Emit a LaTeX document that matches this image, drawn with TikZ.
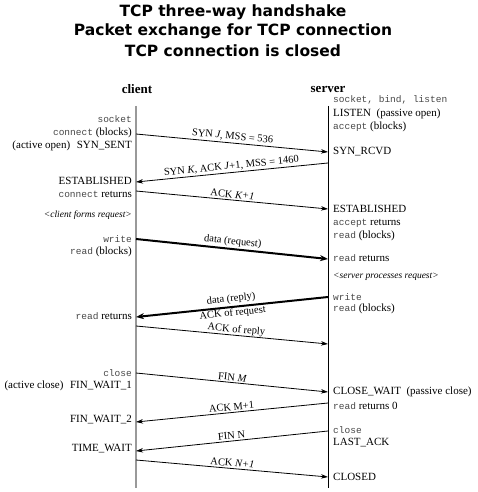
\documentclass[tikz,border=0pt]{standalone}
\usepackage{fontspec}
\setmainfont{Liberation Serif}
\setmonofont{Liberation Mono}
\newfontfamily\titlefont{DejaVu Sans}
\usetikzlibrary{arrows.meta}
\newcommand{\tw}[1]{\textcolor{black!72}{\ttfamily\fontsize{9.5}{12}\selectfont #1}}
\begin{document}
\begin{tikzpicture}[x=1pt,y=-1pt,
  lab/.style={inner sep=0pt, font=\fontsize{11}{13}\selectfont},
  cl/.style={lab, anchor=east},
  sv/.style={lab, anchor=west},
  note/.style={inner sep=0pt, font=\itshape\fontsize{9.5}{12}\selectfont},
  head/.style={inner sep=0pt, font=\bfseries\fontsize{13}{15}\selectfont},
  msg/.style={line width=0.8pt, -{Stealth[length=7pt,width=4.5pt]}},
  bigmsg/.style={line width=2pt, -{Stealth[length=8pt,width=6pt]}},
  mlab/.style={font=\fontsize{10.5}{12}\selectfont, sloped, inner sep=1.5pt},
  ttl/.style={font=\titlefont\bfseries\fontsize{15.5}{18}\selectfont, anchor=base, inner sep=0pt},
]
\useasboundingbox (0,0) rectangle (478,492);

% titles
\node[ttl] (t1) at (233,17) {TCP three-way handshake};
\node[ttl] (t2) at (233,36) {Packet exchange for TCP connection};
\node[ttl] (t3) at (233,56.5) {TCP connection is closed};

% headings
\node[head] (hc) at (137,89) {client};
\node[head] (hs) at (328,89) {server};

% timelines
\coordinate (ctop) at (136,106);
\coordinate (cbot) at (136,488);
\coordinate (stop) at (328,106);
\coordinate (sbot) at (328,488);
\draw[black!40, line width=1.2pt] (ctop) -- (cbot);
\draw[black, line width=1pt] (stop) -- (sbot);

% client labels
\node[cl] (c1) at (132,119) {\tw{socket}};
\node[cl] (c2) at (132,133) {\tw{connect} (blocks)};
\node[cl] (c3) at (132,146) {(active open)\hspace{0.6em}SYN\_SENT};
\node[cl] (c4) at (132,181) {ESTABLISHED};
\node[cl] (c5) at (132,194) {\tw{connect} returns};
\node[note, anchor=east] (c6) at (132,215) {<client forms request>};
\node[cl] (c7) at (132,239) {\tw{write}};
\node[cl] (c8) at (132,252) {\tw{read} (blocks)};
\node[cl] (c9) at (132,316) {\tw{read} returns};
\node[cl] (c10) at (132,373) {\tw{close}};
\node[cl] (c11) at (132,386) {(active close)\hspace{0.6em}FIN\_WAIT\_1};
\node[cl] (c12) at (132,420) {FIN\_WAIT\_2};
\node[cl] (c13) at (132,449) {TIME\_WAIT};

% server labels
\node[sv] (s1) at (333,100) {\tw{socket, bind, listen}};
\node[sv] (s2) at (333,114) {LISTEN\hspace{0.5em}(passive open)};
\node[sv] (s3) at (333,127) {\tw{accept} (blocks)};
\node[sv] (s4) at (333,152) {SYN\_RCVD};
\node[sv] (s5) at (333,209) {ESTABLISHED};
\node[sv] (s6) at (333,223) {\tw{accept} returns};
\node[sv] (s7) at (333,236) {\tw{read} (blocks)};
\node[sv] (s8) at (333,258) {\tw{read} returns};
\node[note, anchor=west] (s9) at (333,277) {<server processes request>};
\node[sv] (s10) at (333,297) {\tw{write}};
\node[sv] (s11) at (333,309) {\tw{read} (blocks)};
\node[sv] (s12) at (333,392) {CLOSE\_WAIT\hspace{0.5em}(passive close)};
\node[sv] (s13) at (333,406) {\tw{read} returns 0};
\node[sv] (s14) at (333,430) {\tw{close}};
\node[sv] (s15) at (333,443) {LAST\_ACK};
\node[sv] (s16) at (333,477) {CLOSED};

% message end points
\coordinate (a1) at (136,134);  \coordinate (b1) at (328,152);
\coordinate (a2) at (328,163);  \coordinate (b2) at (136,182);
\coordinate (a3) at (136,191);  \coordinate (b3) at (328,209);
\coordinate (a4) at (136,239);  \coordinate (b4) at (328,259);
\coordinate (a5) at (328,297);  \coordinate (b5) at (136,317);
\coordinate (a6) at (136,326);  \coordinate (b6) at (328,344);
\coordinate (a7) at (136,373);  \coordinate (b7) at (328,392);
\coordinate (a8) at (328,403);  \coordinate (b8) at (136,422);
\coordinate (a9) at (328,431);  \coordinate (b9) at (136,451);
\coordinate (a10) at (136,460); \coordinate (b10) at (328,477);

\draw[msg] (a1) -- node[mlab, above] (m1) {SYN \textit{J}, MSS = 536} (b1);
\draw[msg] (a2) -- node[mlab, above] (m2) {SYN \textit{K}, ACK \textit{J}+1, MSS = 1460} (b2);
\draw[msg] (a3) -- node[mlab, above] (m3) {ACK \textit{K+1}} (b3);
\draw[bigmsg] (a4) -- node[mlab, above] (m4) {data (request)} (b4);
\draw[bigmsg] (a5) -- node[mlab, above, inner sep=2.2pt] (m5) {data (reply)} node[mlab, below, inner sep=0.6pt] (m5b) {ACK of request} (b5);
\draw[msg] (a6) -- node[mlab, above, inner sep=0.3pt, pos=0.52] (m6) {ACK of reply} (b6);
\draw[msg] (a7) -- node[mlab, above] (m7) {FIN \textit{M}} (b7);
\draw[msg] (a8) -- node[mlab, above] (m8) {ACK M+1} (b8);
\draw[msg] (a9) -- node[mlab, above] (m9) {FIN N} (b9);
\draw[msg] (a10) -- node[mlab, above] (m10) {ACK \textit{N+1}} (b10);
\end{tikzpicture}
\end{document}
